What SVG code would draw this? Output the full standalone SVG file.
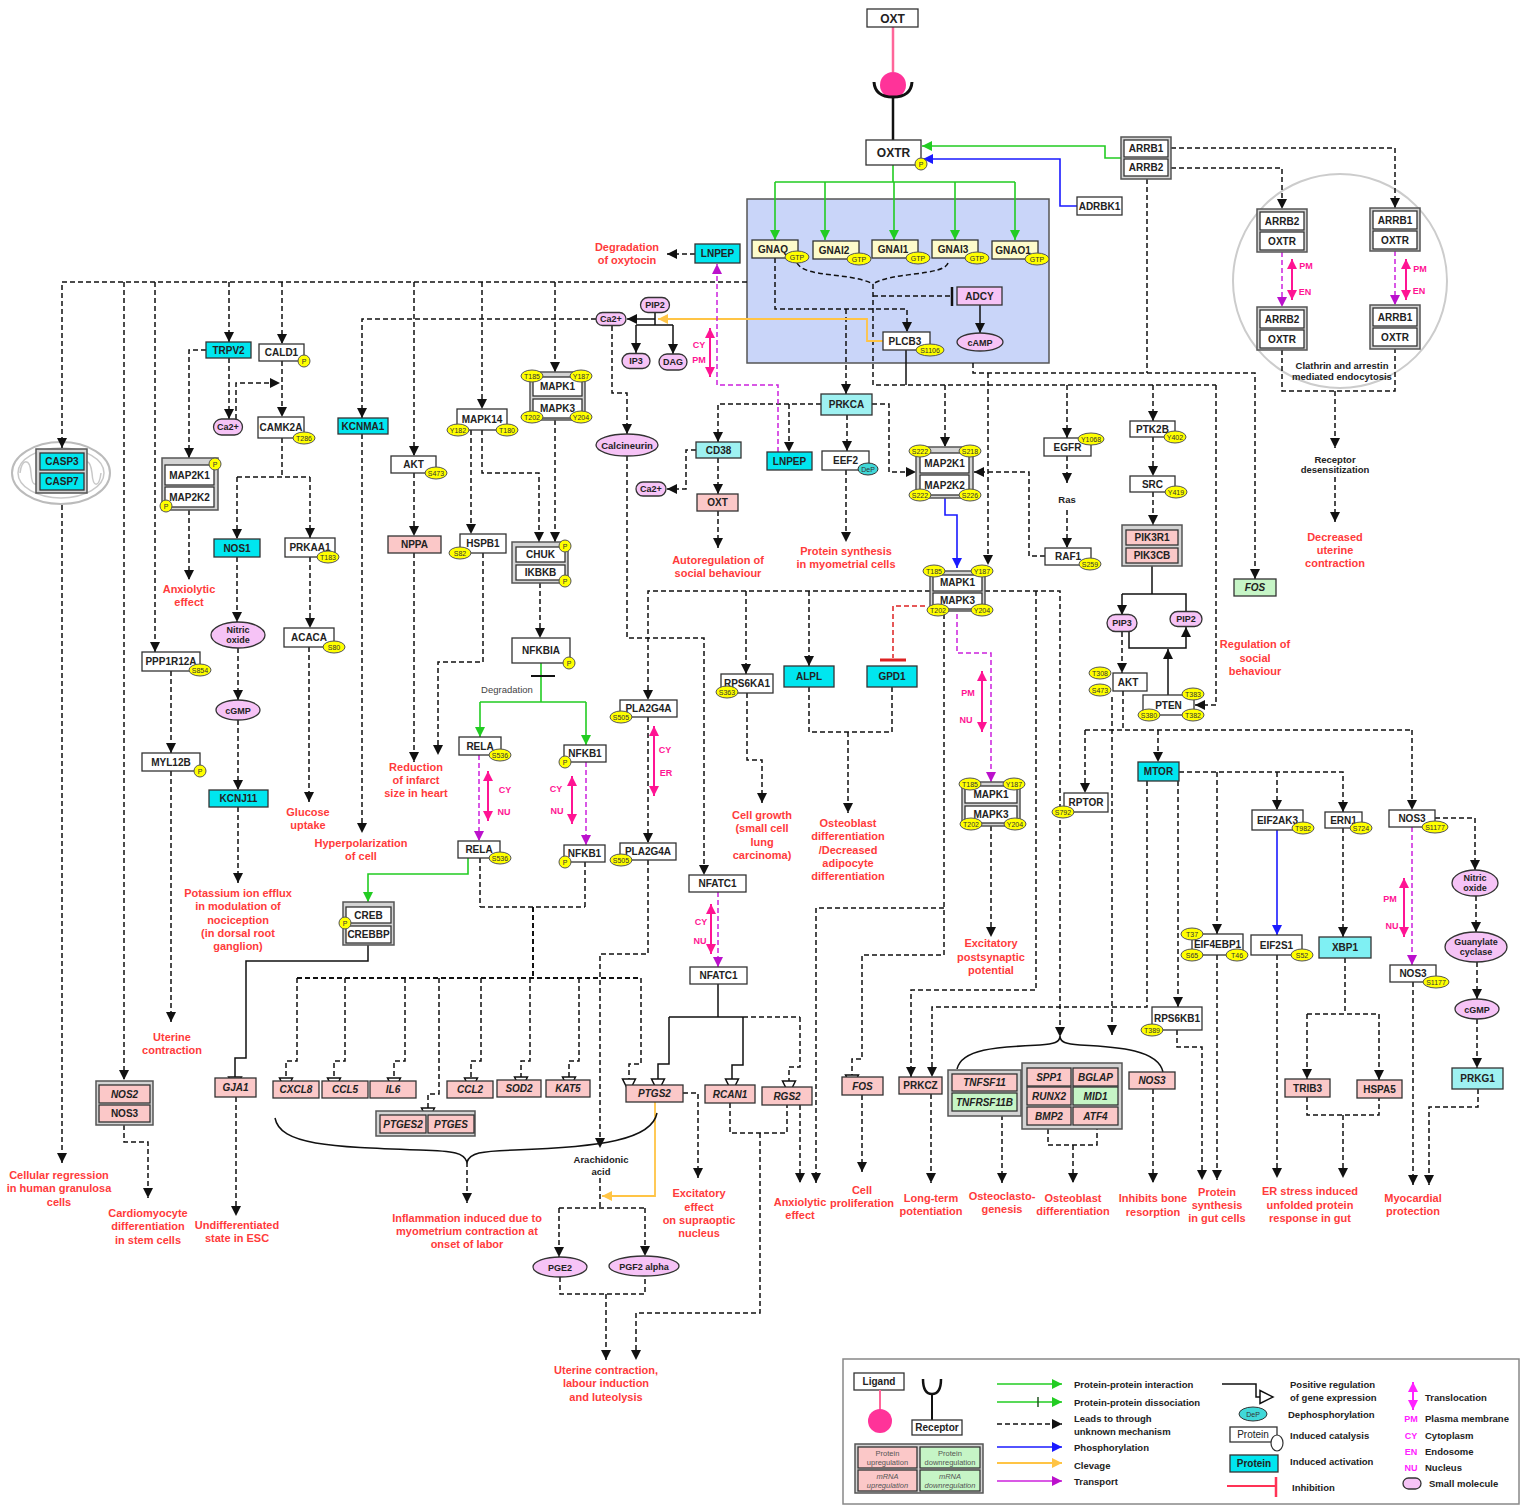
<svg xmlns="http://www.w3.org/2000/svg" width="1521" height="1505" viewBox="0 0 1521 1505">
<style>
.nb{fill:#fff;stroke:#333;stroke-width:1.3}
.cx{fill:#d4d4d4;stroke:#555;stroke-width:1.5}
.cy{fill:#00e6ef;stroke:#333;stroke-width:1.3}
.lc{fill:#9ef1f1;stroke:#333;stroke-width:1.3}
.pk{fill:#fbc8c8;stroke:#333;stroke-width:1.3}
.gr{fill:#c6f5c6;stroke:#333;stroke-width:1.3}
.yl{fill:#fdfbcb;stroke:#333;stroke-width:1.3}
.sm{fill:#f6c3f6;stroke:#333;stroke-width:1.3}
.ph{fill:#ffff00;stroke:#555;stroke-width:1}
text{font-family:"Liberation Sans",Arial,sans-serif}
.t{font-size:10px;font-weight:bold;text-anchor:middle;fill:#222}
.ti{font-size:10px;font-weight:bold;font-style:italic;text-anchor:middle;fill:#222}
.ts{font-size:9px;font-weight:bold;text-anchor:middle;fill:#222}
.st{font-size:7px;text-anchor:middle;fill:#333}
.r{font-size:11px;font-weight:bold;text-anchor:middle;fill:#ff3b3b}
.tr{font-size:9px;font-weight:bold;text-anchor:middle;fill:#ff1493}
.lg{font-size:9.5px;font-weight:bold;fill:#222}
.k{fill:none;stroke:#111;stroke-width:1.5;stroke-dasharray:5,3}
.ka{marker-end:url(#aK)}
.kg{marker-end:url(#aG)}
.s{fill:none;stroke:#111;stroke-width:1.5}
.sa{marker-end:url(#aK)}
.sg{marker-end:url(#aG)}
.g{fill:none;stroke:#22cc22;stroke-width:1.6}
.ga{marker-end:url(#aGr)}
.b{fill:none;stroke:#1a1aff;stroke-width:1.6;marker-end:url(#aB)}
.o{fill:none;stroke:#ffc445;stroke-width:1.8;marker-end:url(#aO)}
.m{fill:none;stroke:#cc22dd;stroke-width:1.5;stroke-dasharray:5,3;marker-end:url(#aM)}
.tl{fill:none;stroke:#ff1493;stroke-width:2;marker-start:url(#aP);marker-end:url(#aP)}
.ri{fill:none;stroke:#dd2222;stroke-width:1.5;stroke-dasharray:5,3}
</style>
<defs>
<marker id="aK" markerUnits="userSpaceOnUse" markerWidth="10" markerHeight="10" refX="10" refY="5" orient="auto"><path d="M0,0L10,5L0,10z" fill="#111"/></marker>
<marker id="aG" markerUnits="userSpaceOnUse" markerWidth="17" markerHeight="17" refX="14.5" refY="8" orient="auto"><path d="M1.5,1.5L14.5,8L1.5,14.5z" fill="#fff" stroke="#111" stroke-width="1.5"/></marker>
<marker id="aGr" markerUnits="userSpaceOnUse" markerWidth="10" markerHeight="10" refX="10" refY="5" orient="auto"><path d="M0,0L10,5L0,10z" fill="#22cc22"/></marker>
<marker id="aB" markerUnits="userSpaceOnUse" markerWidth="10" markerHeight="10" refX="10" refY="5" orient="auto"><path d="M0,0L10,5L0,10z" fill="#1a1aff"/></marker>
<marker id="aO" markerUnits="userSpaceOnUse" markerWidth="10" markerHeight="10" refX="10" refY="5" orient="auto"><path d="M0,0L10,5L0,10z" fill="#ffc445"/></marker>
<marker id="aM" markerUnits="userSpaceOnUse" markerWidth="10" markerHeight="10" refX="10" refY="5" orient="auto"><path d="M0,0L10,5L0,10z" fill="#bb11cc"/></marker>
<marker id="aP" markerUnits="userSpaceOnUse" markerWidth="10" markerHeight="10" refX="10" refY="5" orient="auto-start-reverse"><path d="M0,0L10,5L0,10z" fill="#ff1493"/></marker>
<marker id="aPL" markerUnits="userSpaceOnUse" markerWidth="10" markerHeight="10" refX="10" refY="5" orient="auto-start-reverse"><path d="M0,0L10,5L0,10z" fill="#ff22ff"/></marker>
</defs>
<rect width="1521" height="1505" fill="#fff"/>

<g id="n_endosome_zone"><circle cx="1340" cy="281" r="107" fill="none" stroke="#cccccc" stroke-width="2"/></g>
<g id="n_mitochondrion">
<ellipse cx="61" cy="473" rx="49" ry="31" fill="#fff" stroke="#bbb" stroke-width="2"/>
<ellipse cx="61" cy="473" rx="43" ry="25" fill="none" stroke="#c8c8c8" stroke-width="1.5"/>
<path d="M20,473C22,458 30,458 31,473C32,488 38,488 40,473M82,473C84,458 90,458 92,473C93,488 99,488 101,473" fill="none" stroke="#c8c8c8" stroke-width="1.5"/>
</g>
<g id="n_membrane"><rect x="747" y="199" width="302" height="164" fill="#c9d5f9" stroke="#555" stroke-width="1.5"/></g>

<g id="connectors">
<path d="M893,27V72" fill="none" stroke="#ff6699" stroke-width="2.5"/>
<path d="M893,98V140" fill="none" stroke="#111" stroke-width="2.5"/>
<path d="M1121,158H1105V146H922" class="g ga"/>
<path d="M1077,206H1060V159H923" class="b"/>
<path d="M893,165V182M775,182H1015" class="g"/>
<path d="M775,182V240" class="g ga"/>
<path d="M825,182V240" class="g ga"/>
<path d="M894,182V240" class="g ga"/>
<path d="M955,182V240" class="g ga"/>
<path d="M1015,182V240" class="g ga"/>
<path d="M1171,148H1395V208" class="k ka"/>
<path d="M1171,168H1282V209" class="k ka"/>
<path d="M1147,179V373" class="k"/>
<path d="M1282,252V307" class="m"/>
<path d="M1395,251V305" class="m"/>
<path d="M1292,259V300" class="tl"/>
<path d="M1406,259V300" class="tl"/>
<path d="M1282,350V391H1395V349" class="k"/>
<path d="M1335,391V448" class="k ka"/>
<path d="M1335,477V522" class="k ka"/>
<path d="M797,263C805,278 850,272 873,284" class="k"/>
<path d="M948,263C944,276 890,272 873,284" class="k"/>
<path d="M873,284V385H1216" class="k"/>
<path d="M873,296H950" class="k"/>
<path d="M952,287V306" stroke="#111" stroke-width="2.5"/>
<path d="M980,305V333" class="s sa"/>
<path d="M775,258V309H907V332" class="k ka"/>
<path d="M846,309V394" class="k ka"/>
<path d="M883,341H867V319H658" class="o"/>
<path d="M655,312V325M636,325H673" class="s"/>
<path d="M636,325V353" class="s sa"/>
<path d="M673,325V354" class="s sa"/>
<path d="M655,319H627" class="s sa"/>
<path d="M596,319H362V418" class="k ka"/>
<path d="M612,326V393H627V434" class="k ka"/>
<path d="M747,282H62V448" class="k ka"/>
<path d="M124,282V1080" class="k ka"/>
<path d="M155,282V652" class="k ka"/>
<path d="M229,282V342" class="k ka"/>
<path d="M282,282V344" class="k ka"/>
<path d="M414,282V456" class="k ka"/>
<path d="M482,282V409" class="k ka"/>
<path d="M555,282V372" class="k ka"/>
<path d="M206,350H189V458" class="k ka"/>
<path d="M229,358V419" class="k ka"/>
<path d="M236,419V383H280" class="k ka"/>
<path d="M282,361V417" class="k ka"/>
<path d="M282,438V477M237,477H310" class="k"/>
<path d="M237,477V539" class="k ka"/>
<path d="M310,477V538" class="k ka"/>
<path d="M189,510V580" class="k ka"/>
<path d="M171,671V753" class="k ka"/>
<path d="M171,771V1022" class="k ka"/>
<path d="M237,557V622" class="k ka"/>
<path d="M238,648V700" class="k ka"/>
<path d="M238,720V790" class="k ka"/>
<path d="M238,807V883" class="k ka"/>
<path d="M310,557V628" class="k ka"/>
<path d="M309,647V802" class="k ka"/>
<path d="M362,434V833" class="k ka"/>
<path d="M414,473V536" class="k ka"/>
<path d="M414,553V762" class="k ka"/>
<path d="M471,430V534" class="k ka"/>
<path d="M483,553V662H438V755" class="k ka"/>
<path d="M482,430V473H539V542" class="k ka"/>
<path d="M555,420V542" class="k ka"/>
<path d="M540,583V638" class="k ka"/>
<path d="M541,663V702M480,702H586" class="g"/>
<path d="M531,676H555" stroke="#111" stroke-width="2"/>
<path d="M480,702V737" class="g ga"/>
<path d="M586,702V745" class="g ga"/>
<path d="M479,755V841" class="m"/>
<path d="M488,771V821" class="tl"/>
<path d="M586,762V845" class="m"/>
<path d="M572,776V824" class="tl"/>
<path d="M654,726V796" class="tl"/>
<path d="M648,717V843" class="k ka"/>
<path d="M627,456V638H704V875" class="k ka"/>
<path d="M930,591H648V700" class="k ka"/>
<path d="M746,591V674" class="k ka"/>
<path d="M809,591V666" class="k ka"/>
<path d="M985,591H1060V1037" class="k ka"/>
<path d="M1036,591V990H911V1077" class="k ka"/>
<path d="M925,606H893V658" class="ri"/>
<path d="M880,660H906" stroke="#dd2222" stroke-width="3"/>
<path d="M809,687V732H892V687" class="k"/>
<path d="M848,732V813" class="k ka"/>
<path d="M747,693V760H762V803" class="k ka"/>
<path d="M957,614V653H991V782" class="m"/>
<path d="M982,671V732" class="tl"/>
<path d="M991,826V937" class="k ka"/>
<path d="M944,614V955H862V1059H852V1088" class="k kg"/>
<path d="M944,908H816V1183" class="k ka"/>
<path d="M821,404H718V442" class="k ka"/>
<path d="M789,404V452" class="k ka"/>
<path d="M847,415V451" class="k ka"/>
<path d="M846,470V542" class="k ka"/>
<path d="M872,404H889V472H916" class="k ka"/>
<path d="M696,450H686V489H667" class="k ka"/>
<path d="M718,458V494" class="k ka"/>
<path d="M718,511V548" class="k ka"/>
<path d="M695,254H667" class="k ka"/>
<path d="M778,452V385H717V264" class="m"/>
<path d="M710,328V377" class="tl"/>
<path d="M945,498V515H957V568" class="b"/>
<path d="M945,385V447" class="k ka"/>
<path d="M988,373V565" class="k ka"/>
<path d="M973,363V373H1255V579" class="k ka"/>
<path d="M906,350V385" class="s"/>
<path d="M1067,385V438" class="k ka"/>
<path d="M1153,385V421" class="k ka"/>
<path d="M1216,385V705H1195" class="k ka"/>
<path d="M1067,456V483" class="k ka"/>
<path d="M1067,510V548" class="k ka"/>
<path d="M1045,556H1029V472H974" class="k ka"/>
<path d="M1153,437V476" class="k ka"/>
<path d="M1153,492V525" class="k ka"/>
<path d="M1152,566V594M1122,594H1186V612" class="s"/>
<path d="M1122,594V615" class="s sa"/>
<path d="M1129,631V648H1186V627" class="s sa"/>
<path d="M1168,695V649" class="s sa"/>
<path d="M1122,632V673" class="k ka"/>
<path d="M1123,691V730M1085,730H1412" class="k"/>
<path d="M1085,730V793" class="k ka"/>
<path d="M1158,730V762" class="k ka"/>
<path d="M1412,730V810" class="k ka"/>
<path d="M1112,697V1035" class="k ka"/>
<path d="M1179,772H1343V812" class="k ka"/>
<path d="M1277,772V810" class="k ka"/>
<path d="M1217,772V934" class="k ka"/>
<path d="M1147,781V1007H932V1077" class="k ka"/>
<path d="M1178,781V1007" class="k ka"/>
<path d="M1277,830V935" class="b"/>
<path d="M1343,828V937" class="k ka"/>
<path d="M1435,818H1475V870" class="k ka"/>
<path d="M1412,827V965" class="m"/>
<path d="M1404,878V937" class="tl"/>
<path d="M1476,896V932" class="k ka"/>
<path d="M1477,962V999" class="k ka"/>
<path d="M1477,1019V1068" class="k ka"/>
<path d="M1478,1089V1107H1429V1185" class="k ka"/>
<path d="M1413,982V1185" class="k ka"/>
<path d="M1217,955V1180" class="k ka"/>
<path d="M1177,1030V1047H1202V1180" class="k ka"/>
<path d="M1277,955V1178" class="k ka"/>
<path d="M1345,958V1014M1307,1014H1379" class="k"/>
<path d="M1307,1014V1079" class="k ka"/>
<path d="M1379,1014V1080" class="k ka"/>
<path d="M1307,1097V1115H1379V1098" class="k"/>
<path d="M1343,1115V1178" class="k ka"/>
<path d="M1153,1089V1183" class="k ka"/>
<path d="M1048,1129V1145H1097V1129" class="k"/>
<path d="M1073,1145V1183" class="k ka"/>
<path d="M957,1069C962,1048 1000,1047 1040,1045C1055,1044 1059,1042 1060,1037C1061,1042 1065,1044 1080,1045C1120,1047 1158,1050 1163,1072" class="s"/>
<path d="M1002,1115V1183" class="k ka"/>
<path d="M931,1094V1183" class="k ka"/>
<path d="M862,1095V1172" class="k ka"/>
<path d="M718,892V967" class="m"/>
<path d="M711,904V954" class="tl"/>
<path d="M718,984V1017M669,1017H743" class="s"/>
<path d="M743,1017H800" class="k"/>
<path d="M669,1017V1064H658V1092" class="s sg"/>
<path d="M743,1017V1065H732V1092" class="s sg"/>
<path d="M800,1017V1067H789V1094" class="k kg"/>
<path d="M683,1093H698V1178" class="k ka"/>
<path d="M655,1102V1196H602" class="o"/>
<path d="M648,860V954H600V1148" class="k ka"/>
<path d="M600,1178V1208M559,1208H645" class="k"/>
<path d="M559,1208V1257" class="k ka"/>
<path d="M645,1208V1256" class="k ka"/>
<path d="M560,1277V1294H645V1276" class="k"/>
<path d="M606,1294V1360" class="k ka"/>
<path d="M730,1103V1133H787V1105" class="k"/>
<path d="M760,1133V1313H636V1360" class="k ka"/>
<path d="M800,1105V1183" class="k ka"/>
<path d="M480,858V907M585,862V907M480,907H585" class="k"/>
<path d="M533,907V978M297,978H641" class="k" style="stroke-width:2"/>
<path d="M297,978V1061H286V1091" class="k kg"/>
<path d="M345,978V1061H334V1091" class="k kg"/>
<path d="M405,978V1061H394V1091" class="k kg"/>
<path d="M481,978V1061H471V1091" class="k kg"/>
<path d="M530,978V1061H521V1090" class="k kg"/>
<path d="M579,978V1061H569V1090" class="k kg"/>
<path d="M439,978V1094H428V1121" class="k kg"/>
<path d="M641,978V1064H629V1092" class="k kg"/>
<path d="M275,1118C280,1145 330,1147 420,1150C455,1151 464,1153 467,1162C470,1153 480,1151 515,1150C600,1147 652,1140 657,1113" class="s"/>
<path d="M467,1162V1203" class="k ka"/>
<path d="M468,858V874H368V902" class="g ga"/>
<path d="M368,945V961H246V1058H235V1090" class="s sg"/>
<path d="M236,1097V1216" class="k ka"/>
<path d="M124,1125V1142H148V1198" class="k ka"/>
<path d="M62,505V1163" class="k ka"/>
</g>

<g id="n_OXT"><rect x="867" y="9" width="51" height="18" class="nb"/><text x="892.5" y="22.5" class="t" style="font-size:12px">OXT</text></g>
<g id="n_ligand"><circle cx="893" cy="85" r="13" fill="#ff3399"/></g>
<g id="n_receptor"><path d="M874,82Q875,97 893,97Q911,97 912,82" fill="none" stroke="#111" stroke-width="3"/></g>
<g id="n_OXTR"><rect x="866" y="140" width="55" height="25" class="nb"/><text x="893.5" y="157" class="t" style="font-size:12px">OXTR</text><circle cx="921" cy="164" r="6" class="ph"/><text x="921" y="167" class="st">P</text></g>
<g id="n_ARRB"><rect x="1121" y="137" width="50" height="42" class="cx"/><rect x="1124" y="140" width="44" height="17" class="nb"/><rect x="1124" y="159" width="44" height="17" class="nb"/><text x="1146" y="152" class="t">ARRB1</text><text x="1146" y="171" class="t">ARRB2</text></g>
<g id="n_ADRBK1"><rect x="1077" y="197" width="45" height="18" class="nb"/><text x="1099.5" y="209.5" class="t">ADRBK1</text></g>

<g id="n_GNAQ"><rect x="752" y="240" width="46" height="18" class="yl"/><text x="773" y="252.5" class="t">GNAQ</text><ellipse cx="797" cy="257" rx="12" ry="6" class="ph"/><text x="797" y="259.5" class="st">GTP</text></g>
<g id="n_GNAI2"><rect x="813" y="241" width="46" height="18" class="yl"/><text x="834" y="253.5" class="t">GNAI2</text><ellipse cx="859" cy="259" rx="12" ry="6" class="ph"/><text x="859" y="261.5" class="st">GTP</text></g>
<g id="n_GNAI1"><rect x="872" y="240" width="46" height="18" class="yl"/><text x="893" y="252.5" class="t">GNAI1</text><ellipse cx="918" cy="258" rx="12" ry="6" class="ph"/><text x="918" y="260.5" class="st">GTP</text></g>
<g id="n_GNAI3"><rect x="932" y="240" width="46" height="18" class="yl"/><text x="953" y="252.5" class="t">GNAI3</text><ellipse cx="977" cy="258" rx="12" ry="6" class="ph"/><text x="977" y="260.5" class="st">GTP</text></g>
<g id="n_GNAO1"><rect x="992" y="241" width="46" height="18" class="yl"/><text x="1013" y="253.5" class="t">GNAO1</text><ellipse cx="1037" cy="259" rx="12" ry="6" class="ph"/><text x="1037" y="261.5" class="st">GTP</text></g>
<g id="n_ADCY"><rect x="957" y="287" width="45" height="18" class="sm"/><text x="979.5" y="299.5" class="t">ADCY</text></g>
<g id="n_cAMP"><ellipse cx="980" cy="342" rx="23" ry="9" class="sm"/><text x="980" y="345.5" class="ts">cAMP</text></g>
<g id="n_PLCB3"><rect x="883" y="332" width="47" height="18" class="nb"/><text x="905" y="344.5" class="t">PLCB3</text><ellipse cx="930" cy="350" rx="14" ry="6" class="ph"/><text x="930" y="352.5" class="st">S1106</text></g>

<g id="n_LNPEP_top"><rect x="695" y="244" width="45" height="19" class="cy"/><text x="717.5" y="257" class="t">LNPEP</text></g>
<g id="n_PIP2_top"><rect x="640.5" y="297.5" width="29" height="15" rx="7.5" class="sm"/><text x="655" y="308" class="ts">PIP2</text></g>
<g id="n_IP3"><rect x="622" y="353.5" width="28" height="15" rx="7.5" class="sm"/><text x="636" y="364" class="ts">IP3</text></g>
<g id="n_DAG"><rect x="659" y="354" width="28" height="16" rx="8" class="sm"/><text x="673" y="365" class="ts">DAG</text></g>
<g id="n_Ca_top"><rect x="596" y="312.5" width="30" height="13" rx="6.5" class="sm"/><text x="611" y="322" class="ts">Ca2+</text></g>
<g id="n_MAPK13_top"><rect x="530" y="372" width="55" height="48" class="cx"/><rect x="533" y="377" width="49" height="19" class="nb"/><rect x="533" y="399" width="49" height="19" class="nb"/><text x="557.5" y="389.5" class="t">MAPK1</text><text x="557.5" y="411.5" class="t">MAPK3</text>
<ellipse cx="532" cy="376" rx="11" ry="6" class="ph"/><text x="532" y="378.5" class="st">T185</text><ellipse cx="581" cy="376" rx="11" ry="6" class="ph"/><text x="581" y="378.5" class="st">Y187</text><ellipse cx="532" cy="417" rx="11" ry="6" class="ph"/><text x="532" y="419.5" class="st">T202</text><ellipse cx="581" cy="417" rx="11" ry="6" class="ph"/><text x="581" y="419.5" class="st">Y204</text></g>

<g id="n_PRKCA"><rect x="821" y="394" width="51" height="21" class="lc"/><text x="846.5" y="408" class="t">PRKCA</text></g>
<g id="n_CD38"><rect x="696" y="442" width="45" height="16" class="lc"/><text x="718.5" y="453.5" class="t">CD38</text></g>
<g id="n_Ca_mid"><rect x="636" y="482" width="30" height="14" rx="7" class="sm"/><text x="651" y="492" class="ts">Ca2+</text></g>
<g id="n_OXT_gene"><rect x="697" y="494" width="41" height="17" class="pk"/><text x="717.5" y="506" class="t">OXT</text></g>
<g id="n_LNPEP_low"><rect x="767" y="452" width="45" height="18" class="cy"/><text x="789.5" y="464.5" class="t">LNPEP</text></g>
<g id="n_EEF2"><rect x="822" y="451" width="47" height="19" class="nb"/><text x="845.5" y="464" class="t">EEF2</text><ellipse cx="868" cy="469" rx="10" ry="6" fill="#40d8d8" stroke="#333" stroke-width="1"/><text x="868" y="471.5" class="st">DeP</text></g>
<g id="n_Calcineurin"><ellipse cx="627" cy="445" rx="31" ry="11" class="sm"/><text x="627" y="448.5" class="ts" style="font-size:9.5px">Calcineurin</text></g>
<g id="n_CHUK_IKBKB"><rect x="512" y="542" width="56" height="41" class="cx"/><rect x="516" y="547" width="49" height="15" class="nb"/><rect x="516" y="565" width="49" height="15" class="nb"/><text x="540.5" y="558" class="t">CHUK</text><text x="540.5" y="576" class="t">IKBKB</text><circle cx="565" cy="546" r="6" class="ph"/><text x="565" y="549" class="st">P</text><circle cx="565" cy="581" r="6" class="ph"/><text x="565" y="584" class="st">P</text></g>
<g id="n_NFKBIA"><rect x="512" y="638" width="58" height="25" class="nb"/><text x="541" y="654" class="t">NFKBIA</text><circle cx="569" cy="663" r="6" class="ph"/><text x="569" y="666" class="st">P</text></g>
<g id="n_degradation_label"><text x="507" y="693" style="font-size:9.5px;text-anchor:middle;fill:#444">Degradation</text></g>
<g id="n_MAPK14"><rect x="457" y="409" width="50" height="21" class="nb"/><text x="482" y="423" class="t">MAPK14</text><ellipse cx="458" cy="430" rx="11" ry="6" class="ph"/><text x="458" y="432.5" class="st">Y182</text><ellipse cx="507" cy="430" rx="11" ry="6" class="ph"/><text x="507" y="432.5" class="st">T180</text></g>
<g id="n_AKT_left"><rect x="391" y="456" width="45" height="17" class="nb"/><text x="413.5" y="468" class="t">AKT</text><ellipse cx="436" cy="473" rx="11" ry="6" class="ph"/><text x="436" y="475.5" class="st">S473</text></g>
<g id="n_HSPB1"><rect x="460" y="534" width="46" height="19" class="nb"/><text x="483" y="547" class="t">HSPB1</text><ellipse cx="460" cy="553" rx="11" ry="6" class="ph"/><text x="460" y="555.5" class="st">S82</text></g>
<g id="n_NPPA"><rect x="388" y="536" width="53" height="17" class="pk"/><text x="414.5" y="548" class="t">NPPA</text></g>
<g id="n_KCNMA1"><rect x="338" y="418" width="50" height="16" class="cy"/><text x="363" y="429.5" class="t">KCNMA1</text></g>
<g id="n_TRPV2"><rect x="206" y="342" width="45" height="16" class="cy"/><text x="228.5" y="353.5" class="t">TRPV2</text></g>
<g id="n_CALD1"><rect x="259" y="344" width="45" height="17" class="nb"/><text x="281.5" y="356" class="t">CALD1</text><circle cx="304" cy="361" r="6" class="ph"/><text x="304" y="364" class="st">P</text></g>
<g id="n_Ca_left"><rect x="213.5" y="419" width="29" height="16" rx="8" class="sm"/><text x="228" y="430" class="ts">Ca2+</text></g>
<g id="n_CAMK2A"><rect x="258" y="417" width="46" height="21" class="nb"/><text x="281" y="431" class="t">CAMK2A</text><ellipse cx="304" cy="438" rx="11" ry="6" class="ph"/><text x="304" y="440.5" class="st">T286</text></g>
<g id="n_CASP"><rect x="36" y="449" width="51" height="44" class="cx"/><rect x="40" y="453" width="44" height="17" class="cy"/><rect x="40" y="473" width="44" height="17" class="cy"/><text x="62" y="465" class="t">CASP3</text><text x="62" y="485" class="t">CASP7</text></g>
<g id="n_MAP2K_left"><rect x="162" y="458" width="56" height="52" class="cx"/><rect x="165" y="465" width="49" height="20" class="nb"/><rect x="165" y="487" width="49" height="20" class="nb"/><text x="189.5" y="479" class="t">MAP2K1</text><text x="189.5" y="501" class="t">MAP2K2</text><circle cx="215" cy="464" r="6" class="ph"/><text x="215" y="467" class="st">P</text><circle cx="166" cy="506" r="6" class="ph"/><text x="166" y="509" class="st">P</text></g>
<g id="n_NOS1"><rect x="214" y="539" width="46" height="18" class="cy"/><text x="237" y="551.5" class="t">NOS1</text></g>
<g id="n_PRKAA1"><rect x="285" y="538" width="50" height="19" class="nb"/><text x="310" y="551" class="t">PRKAA1</text><ellipse cx="328" cy="557" rx="11" ry="6" class="ph"/><text x="328" y="559.5" class="st">T183</text></g>
<g id="n_NO_left"><ellipse cx="238" cy="635" rx="27" ry="13" class="sm"/><text x="238" y="633" class="ts">Nitric</text><text x="238" y="643" class="ts">oxide</text></g>
<g id="n_ACACA"><rect x="284" y="628" width="50" height="19" class="nb"/><text x="309" y="641" class="t">ACACA</text><ellipse cx="334" cy="647" rx="11" ry="6" class="ph"/><text x="334" y="649.5" class="st">S80</text></g>
<g id="n_PPP1R12A"><rect x="142" y="652" width="58" height="19" class="nb"/><text x="171" y="665" class="t">PPP1R12A</text><ellipse cx="200" cy="670" rx="11" ry="6" class="ph"/><text x="200" y="672.5" class="st">S854</text></g>
<g id="n_cGMP_left"><ellipse cx="238" cy="710" rx="22" ry="10" class="sm"/><text x="238" y="713.5" class="ts">cGMP</text></g>
<g id="n_MYL12B"><rect x="142" y="753" width="58" height="18" class="nb"/><text x="171" y="765.5" class="t">MYL12B</text><circle cx="200" cy="771" r="6" class="ph"/><text x="200" y="774" class="st">P</text></g>
<g id="n_KCNJ11"><rect x="209" y="790" width="59" height="17" class="cy"/><text x="238.5" y="802" class="t">KCNJ11</text></g>

<g id="n_RELA_cy"><rect x="459" y="737" width="42" height="18" class="nb"/><text x="480" y="749.5" class="t">RELA</text><ellipse cx="500" cy="755" rx="11" ry="6" class="ph"/><text x="500" y="757.5" class="st">S536</text></g>
<g id="n_RELA_nu"><rect x="458" y="841" width="42" height="17" class="nb"/><text x="479" y="853" class="t">RELA</text><ellipse cx="500" cy="858" rx="11" ry="6" class="ph"/><text x="500" y="860.5" class="st">S536</text></g>
<g id="n_NFKB1_cy"><rect x="564" y="745" width="42" height="17" class="nb"/><text x="585" y="757" class="t">NFKB1</text><circle cx="565" cy="762" r="6" class="ph"/><text x="565" y="765" class="st">P</text></g>
<g id="n_NFKB1_nu"><rect x="564" y="845" width="41" height="17" class="nb"/><text x="584.5" y="857" class="t">NFKB1</text><circle cx="565" cy="862" r="6" class="ph"/><text x="565" y="865" class="st">P</text></g>
<g id="n_PLA2G4A_cy"><rect x="620" y="700" width="57" height="17" class="nb"/><text x="648.5" y="712" class="t">PLA2G4A</text><ellipse cx="621" cy="717" rx="11" ry="6" class="ph"/><text x="621" y="719.5" class="st">S505</text></g>
<g id="n_PLA2G4A_er"><rect x="620" y="843" width="56" height="17" class="nb"/><text x="648" y="855" class="t">PLA2G4A</text><ellipse cx="621" cy="860" rx="11" ry="6" class="ph"/><text x="621" y="862.5" class="st">S505</text></g>

<g id="n_MAP2K_mid"><rect x="916" y="447" width="57" height="51" class="cx"/><rect x="920" y="453" width="49" height="20" class="nb"/><rect x="920" y="475" width="49" height="20" class="nb"/><text x="944.5" y="467" class="t">MAP2K1</text><text x="944.5" y="489" class="t">MAP2K2</text>
<ellipse cx="920" cy="451" rx="11" ry="6" class="ph"/><text x="920" y="453.5" class="st">S222</text><ellipse cx="970" cy="451" rx="11" ry="6" class="ph"/><text x="970" y="453.5" class="st">S218</text><ellipse cx="920" cy="495" rx="11" ry="6" class="ph"/><text x="920" y="497.5" class="st">S222</text><ellipse cx="970" cy="495" rx="11" ry="6" class="ph"/><text x="970" y="497.5" class="st">S226</text></g>
<g id="n_MAPK13_mid"><rect x="930" y="571" width="55" height="40" class="cx"/><rect x="933" y="575" width="49" height="16" class="nb"/><rect x="933" y="593" width="49" height="16" class="nb"/><text x="957.5" y="586" class="t">MAPK1</text><text x="957.5" y="604" class="t">MAPK3</text>
<ellipse cx="934" cy="571" rx="11" ry="6" class="ph"/><text x="934" y="573.5" class="st">T185</text><ellipse cx="982" cy="571" rx="11" ry="6" class="ph"/><text x="982" y="573.5" class="st">Y187</text><ellipse cx="938" cy="610" rx="11" ry="6" class="ph"/><text x="938" y="612.5" class="st">T202</text><ellipse cx="982" cy="610" rx="11" ry="6" class="ph"/><text x="982" y="612.5" class="st">Y204</text></g>
<g id="n_RPS6KA1"><rect x="721" y="674" width="52" height="19" class="nb"/><text x="747" y="687" class="t">RPS6KA1</text><ellipse cx="727" cy="692" rx="11" ry="6" class="ph"/><text x="727" y="694.5" class="st">S363</text></g>
<g id="n_ALPL"><rect x="784" y="666" width="50" height="21" class="cy"/><text x="809" y="680" class="t">ALPL</text></g>
<g id="n_GPD1"><rect x="867" y="666" width="50" height="21" class="cy"/><text x="892" y="680" class="t">GPD1</text></g>
<g id="n_MAPK13_nu"><rect x="962" y="782" width="58" height="44" class="cx"/><rect x="965" y="786" width="52" height="17" class="nb"/><rect x="965" y="806" width="52" height="17" class="nb"/><text x="991" y="798" class="t">MAPK1</text><text x="991" y="818" class="t">MAPK3</text>
<ellipse cx="970" cy="784" rx="11" ry="6" class="ph"/><text x="970" y="786.5" class="st">T185</text><ellipse cx="1014" cy="784" rx="11" ry="6" class="ph"/><text x="1014" y="786.5" class="st">Y187</text><ellipse cx="971" cy="824" rx="11" ry="6" class="ph"/><text x="971" y="826.5" class="st">T202</text><ellipse cx="1015" cy="824" rx="11" ry="6" class="ph"/><text x="1015" y="826.5" class="st">Y204</text></g>

<g id="n_EGFR"><rect x="1044" y="438" width="47" height="18" class="nb"/><text x="1067.5" y="450.5" class="t">EGFR</text><ellipse cx="1091" cy="439" rx="13" ry="6" class="ph"/><text x="1091" y="441.5" class="st">Y1068</text></g>
<g id="n_Ras"><text x="1067" y="503" class="t" style="font-size:9.5px">Ras</text></g>
<g id="n_PTK2B"><rect x="1130" y="421" width="45" height="16" class="nb"/><text x="1152.5" y="432.5" class="t">PTK2B</text><ellipse cx="1175" cy="437" rx="11" ry="6" class="ph"/><text x="1175" y="439.5" class="st">Y402</text></g>
<g id="n_SRC"><rect x="1130" y="476" width="45" height="16" class="nb"/><text x="1152.5" y="487.5" class="t">SRC</text><ellipse cx="1176" cy="492" rx="11" ry="6" class="ph"/><text x="1176" y="494.5" class="st">Y419</text></g>
<g id="n_RAF1"><rect x="1045" y="548" width="46" height="17" class="nb"/><text x="1068" y="560" class="t">RAF1</text><ellipse cx="1090" cy="564" rx="11" ry="6" class="ph"/><text x="1090" y="566.5" class="st">S259</text></g>
<g id="n_PIK3"><rect x="1122" y="525" width="60" height="41" class="cx"/><rect x="1126" y="530" width="52" height="15" class="pk"/><rect x="1126" y="548" width="52" height="15" class="pk"/><text x="1152" y="541" class="t">PIK3R1</text><text x="1152" y="559" class="t">PIK3CB</text></g>
<g id="n_PIP3"><rect x="1107" y="614.5" width="30" height="17" rx="8.5" class="sm"/><text x="1122" y="626" class="ts">PIP3</text></g>
<g id="n_PIP2_right"><rect x="1170" y="611.5" width="32" height="15" rx="7.5" class="sm"/><text x="1186" y="622" class="ts">PIP2</text></g>
<g id="n_AKT_right"><rect x="1113" y="673" width="34" height="18" class="nb"/><text x="1128" y="685.5" class="t">AKT</text><ellipse cx="1100" cy="673" rx="11" ry="6" class="ph"/><text x="1100" y="675.5" class="st">T308</text><ellipse cx="1100" cy="690" rx="11" ry="6" class="ph"/><text x="1100" y="692.5" class="st">S473</text></g>
<g id="n_PTEN"><rect x="1143" y="695" width="51" height="20" class="nb"/><text x="1168.5" y="708.5" class="t">PTEN</text><ellipse cx="1193" cy="694" rx="11" ry="6" class="ph"/><text x="1193" y="696.5" class="st">T383</text><ellipse cx="1149" cy="715" rx="11" ry="6" class="ph"/><text x="1149" y="717.5" class="st">S380</text><ellipse cx="1193" cy="715" rx="11" ry="6" class="ph"/><text x="1193" y="717.5" class="st">T382</text></g>
<g id="n_FOS_social"><rect x="1234" y="579" width="42" height="17" class="gr"/><text x="1255" y="591" class="ti">FOS</text></g>

<g id="n_endocytosis">
<rect x="1257" y="209" width="50" height="43" class="cx"/><rect x="1260" y="212" width="44" height="18" class="nb"/><rect x="1260" y="232" width="44" height="18" class="nb"/><text x="1282" y="224.5" class="t">ARRB2</text><text x="1282" y="244.5" class="t">OXTR</text>
<rect x="1370" y="208" width="50" height="43" class="cx"/><rect x="1373" y="211" width="44" height="18" class="nb"/><rect x="1373" y="231" width="44" height="18" class="nb"/><text x="1395" y="223.5" class="t">ARRB1</text><text x="1395" y="243.5" class="t">OXTR</text>
<rect x="1257" y="307" width="50" height="43" class="cx"/><rect x="1260" y="310" width="44" height="18" class="nb"/><rect x="1260" y="330" width="44" height="18" class="nb"/><text x="1282" y="322.5" class="t">ARRB2</text><text x="1282" y="342.5" class="t">OXTR</text>
<rect x="1370" y="305" width="50" height="44" class="cx"/><rect x="1373" y="308" width="44" height="18" class="nb"/><rect x="1373" y="328" width="44" height="18" class="nb"/><text x="1395" y="320.5" class="t">ARRB1</text><text x="1395" y="340.5" class="t">OXTR</text>
<text x="1342" y="369" class="t" style="font-size:9.5px">Clathrin and arrestin</text><text x="1342" y="380" class="t" style="font-size:9.5px">mediated endocytosis</text>
</g>
<g id="n_receptor_desens"><text x="1335" y="463" class="t" style="font-size:9.5px">Receptor</text><text x="1335" y="473" class="t" style="font-size:9.5px">desensitization</text></g>

<g id="n_RPTOR"><rect x="1064" y="793" width="44" height="19" class="nb"/><text x="1086" y="806" class="t">RPTOR</text><ellipse cx="1063" cy="812" rx="11" ry="6" class="ph"/><text x="1063" y="814.5" class="st">S792</text></g>
<g id="n_MTOR"><rect x="1138" y="762" width="41" height="19" class="cy"/><text x="1158.5" y="775" class="t">MTOR</text></g>
<g id="n_EIF2AK3"><rect x="1252" y="810" width="51" height="20" class="nb"/><text x="1277.5" y="823.5" class="t">EIF2AK3</text><ellipse cx="1303" cy="828" rx="11" ry="6" class="ph"/><text x="1303" y="830.5" class="st">T982</text></g>
<g id="n_ERN1"><rect x="1325" y="812" width="37" height="16" class="nb"/><text x="1343.5" y="823.5" class="t">ERN1</text><ellipse cx="1361" cy="828" rx="11" ry="6" class="ph"/><text x="1361" y="830.5" class="st">S724</text></g>
<g id="n_NOS3_pm"><rect x="1389" y="810" width="46" height="17" class="nb"/><text x="1412" y="822" class="t">NOS3</text><ellipse cx="1435" cy="827" rx="13" ry="6" class="ph"/><text x="1435" y="829.5" class="st">S1177</text></g>
<g id="n_NO_right"><ellipse cx="1475" cy="883" rx="23" ry="13" class="sm"/><text x="1475" y="881" class="ts">Nitric</text><text x="1475" y="891" class="ts">oxide</text></g>
<g id="n_EIF4EBP1"><rect x="1192" y="934" width="51" height="21" class="nb"/><text x="1217.5" y="948" class="t">EIF4EBP1</text><ellipse cx="1192" cy="934" rx="11" ry="6" class="ph"/><text x="1192" y="936.5" class="st">T37</text><ellipse cx="1192" cy="955" rx="11" ry="6" class="ph"/><text x="1192" y="957.5" class="st">S65</text><ellipse cx="1237" cy="955" rx="11" ry="6" class="ph"/><text x="1237" y="957.5" class="st">T46</text></g>
<g id="n_EIF2S1"><rect x="1251" y="935" width="51" height="20" class="nb"/><text x="1276.5" y="948.5" class="t">EIF2S1</text><ellipse cx="1302" cy="955" rx="11" ry="6" class="ph"/><text x="1302" y="957.5" class="st">S52</text></g>
<g id="n_XBP1"><rect x="1319" y="937" width="52" height="21" class="lc" style="fill:#7ff0f3"/><text x="1345" y="951" class="t">XBP1</text></g>
<g id="n_NOS3_nu"><rect x="1390" y="965" width="46" height="17" class="nb"/><text x="1413" y="977" class="t">NOS3</text><ellipse cx="1436" cy="982" rx="13" ry="6" class="ph"/><text x="1436" y="984.5" class="st">S1177</text></g>
<g id="n_GC"><ellipse cx="1476" cy="947" rx="31" ry="15" class="sm"/><text x="1476" y="945" class="ts">Guanylate</text><text x="1476" y="955" class="ts">cyclase</text></g>
<g id="n_cGMP_right"><ellipse cx="1477" cy="1009" rx="22" ry="10" class="sm"/><text x="1477" y="1012.5" class="ts">cGMP</text></g>
<g id="n_PRKG1"><rect x="1452" y="1068" width="51" height="21" class="lc"/><text x="1477.5" y="1082" class="t">PRKG1</text></g>
<g id="n_RPS6KB1"><rect x="1152" y="1007" width="50" height="23" class="nb"/><text x="1177" y="1022" class="t">RPS6KB1</text><ellipse cx="1152" cy="1030" rx="11" ry="6" class="ph"/><text x="1152" y="1032.5" class="st">T389</text></g>
<g id="n_TRIB3"><rect x="1285" y="1079" width="45" height="18" class="pk"/><text x="1307.5" y="1091.5" class="t">TRIB3</text></g>
<g id="n_HSPA5"><rect x="1357" y="1080" width="45" height="18" class="pk"/><text x="1379.5" y="1092.5" class="t">HSPA5</text></g>
<g id="n_NOS3_gene"><rect x="1129" y="1072" width="46" height="17" class="pk"/><text x="1152" y="1084" class="ti">NOS3</text></g>
<g id="n_osteo_genes"><rect x="1022" y="1063" width="100" height="66" class="cx"/>
<rect x="1027" y="1068" width="44" height="18" class="pk"/><rect x="1073" y="1068" width="45" height="18" class="pk"/>
<rect x="1027" y="1087" width="44" height="18" class="pk"/><rect x="1073" y="1087" width="45" height="18" class="gr"/>
<rect x="1027" y="1107" width="44" height="18" class="pk"/><rect x="1073" y="1107" width="45" height="18" class="pk"/>
<text x="1049" y="1080.5" class="ti">SPP1</text><text x="1095.5" y="1080.5" class="ti">BGLAP</text>
<text x="1049" y="1099.5" class="ti">RUNX2</text><text x="1095.5" y="1099.5" class="ti">MID1</text>
<text x="1049" y="1119.5" class="ti">BMP2</text><text x="1095.5" y="1119.5" class="ti">ATF4</text></g>
<g id="n_TNF_genes"><rect x="948" y="1070" width="73" height="46" class="cx"/><rect x="952" y="1074" width="65" height="17" class="pk"/><rect x="952" y="1093" width="65" height="18" class="gr"/><text x="984.5" y="1086" class="ti">TNFSF11</text><text x="984.5" y="1105.5" class="ti">TNFRSF11B</text></g>
<g id="n_PRKCZ"><rect x="899" y="1077" width="43" height="17" class="pk"/><text x="920.5" y="1089" class="t">PRKCZ</text></g>
<g id="n_FOS_gene"><rect x="842" y="1077" width="41" height="18" class="pk"/><text x="862.5" y="1089.5" class="ti">FOS</text></g>
<g id="n_RGS2"><rect x="762" y="1087" width="50" height="18" class="pk"/><text x="787" y="1099.5" class="ti">RGS2</text></g>
<g id="n_RCAN1"><rect x="705" y="1085" width="50" height="18" class="pk"/><text x="730" y="1097.5" class="ti">RCAN1</text></g>
<g id="n_PTGS2"><rect x="626" y="1085" width="57" height="17" class="pk"/><text x="654.5" y="1097" class="ti">PTGS2</text></g>
<g id="n_KAT5"><rect x="546" y="1080" width="44" height="17" class="pk"/><text x="568" y="1092" class="ti">KAT5</text></g>
<g id="n_SOD2"><rect x="497" y="1080" width="44" height="17" class="pk"/><text x="519" y="1092" class="ti">SOD2</text></g>
<g id="n_CCL2"><rect x="447" y="1081" width="46" height="17" class="pk"/><text x="470" y="1093" class="ti">CCL2</text></g>
<g id="n_IL6"><rect x="370" y="1081" width="46" height="17" class="pk"/><text x="393" y="1093" class="ti">IL6</text></g>
<g id="n_CCL5"><rect x="322" y="1081" width="46" height="17" class="pk"/><text x="345" y="1093" class="ti">CCL5</text></g>
<g id="n_CXCL8"><rect x="273" y="1081" width="46" height="17" class="pk"/><text x="296" y="1093" class="ti">CXCL8</text></g>
<g id="n_PTGES"><rect x="376" y="1111" width="99" height="25" class="cx"/><rect x="380" y="1115" width="46" height="18" class="pk"/><rect x="428" y="1115" width="46" height="18" class="pk"/><text x="403" y="1127.5" class="ti">PTGES2</text><text x="451" y="1127.5" class="ti">PTGES</text></g>
<g id="n_GJA1"><rect x="215" y="1078" width="41" height="19" class="pk"/><text x="235.5" y="1091" class="ti">GJA1</text></g>
<g id="n_NOS2_NOS3"><rect x="96" y="1081" width="57" height="44" class="cx"/><rect x="99" y="1085" width="51" height="18" class="pk"/><rect x="99" y="1105" width="51" height="17" class="pk"/><text x="124.5" y="1097.5" class="ti">NOS2</text><text x="124.5" y="1117" class="t">NOS3</text></g>
<g id="n_CREB"><rect x="343" y="902" width="51" height="43" class="cx"/><rect x="346" y="907" width="45" height="16" class="nb"/><rect x="346" y="926" width="45" height="17" class="nb"/><text x="368.5" y="918.5" class="t">CREB</text><text x="368.5" y="938" class="t">CREBBP</text><circle cx="345" cy="923" r="6" class="ph"/><text x="345" y="926" class="st">P</text></g>
<g id="n_NFATC1_cy"><rect x="689" y="875" width="57" height="17" class="nb"/><text x="717.5" y="887" class="t">NFATC1</text></g>
<g id="n_NFATC1_nu"><rect x="690" y="967" width="57" height="17" class="nb"/><text x="718.5" y="979" class="t">NFATC1</text></g>
<g id="n_arachidonic"><text x="601" y="1163" class="t" style="font-size:9.5px">Arachidonic</text><text x="601" y="1175" class="t" style="font-size:9.5px">acid</text></g>
<g id="n_PGE2"><ellipse cx="560" cy="1267" rx="27" ry="10" class="sm"/><text x="560" y="1270.5" class="ts">PGE2</text></g>
<g id="n_PGF2"><ellipse cx="644" cy="1266" rx="35" ry="10" class="sm"/><text x="644" y="1269.5" class="ts">PGF2 alpha</text></g>

<g id="translocation_labels">
<text x="699" y="348" class="tr">CY</text><text x="699" y="363" class="tr">PM</text>
<text x="1306" y="269" class="tr">PM</text><text x="1305" y="295" class="tr">EN</text>
<text x="1420" y="272" class="tr">PM</text><text x="1419" y="294" class="tr">EN</text>
<text x="505" y="793" class="tr">CY</text><text x="504" y="815" class="tr">NU</text>
<text x="556" y="792" class="tr">CY</text><text x="557" y="814" class="tr">NU</text>
<text x="665" y="753" class="tr">CY</text><text x="666" y="776" class="tr">ER</text>
<text x="968" y="696" class="tr">PM</text><text x="966" y="723" class="tr">NU</text>
<text x="701" y="925" class="tr">CY</text><text x="700" y="944" class="tr">NU</text>
<text x="1390" y="902" class="tr">PM</text><text x="1392" y="929" class="tr">NU</text>
</g>

<g id="out_degradation_oxytocin"><text class="r"><tspan x="627" y="251">Degradation</tspan><tspan x="627" y="264">of oxytocin</tspan></text></g>
<g id="out_anxiolytic_left"><text class="r"><tspan x="189" y="593">Anxiolytic</tspan><tspan x="189" y="606">effect</tspan></text></g>
<g id="out_infarct"><text class="r"><tspan x="416" y="771">Reduction</tspan><tspan x="416" y="784">of infarct</tspan><tspan x="416" y="797">size in heart</tspan></text></g>
<g id="out_glucose"><text class="r"><tspan x="308" y="816">Glucose</tspan><tspan x="308" y="829">uptake</tspan></text></g>
<g id="out_hyperpol"><text class="r"><tspan x="361" y="847">Hyperpolarization</tspan><tspan x="361" y="860">of cell</tspan></text></g>
<g id="out_potassium"><text class="r"><tspan x="238" y="897">Potassium ion efflux</tspan><tspan x="238" y="910">in modulation of</tspan><tspan x="238" y="924">nociception</tspan><tspan x="238" y="937">(in dorsal root</tspan><tspan x="238" y="950">ganglion)</tspan></text></g>
<g id="out_uterine"><text class="r"><tspan x="172" y="1041">Uterine</tspan><tspan x="172" y="1054">contraction</tspan></text></g>
<g id="out_cellular_regression"><text class="r"><tspan x="59" y="1179">Cellular regression</tspan><tspan x="59" y="1192">in human granulosa</tspan><tspan x="59" y="1206">cells</tspan></text></g>
<g id="out_cardiomyocyte"><text class="r"><tspan x="148" y="1217">Cardiomyocyte</tspan><tspan x="148" y="1230">differentiation</tspan><tspan x="148" y="1244">in stem cells</tspan></text></g>
<g id="out_esc"><text class="r"><tspan x="237" y="1229">Undifferentiated</tspan><tspan x="237" y="1242">state in ESC</tspan></text></g>
<g id="out_inflammation"><text class="r"><tspan x="467" y="1222">Inflammation induced due to</tspan><tspan x="467" y="1235">myometrium contraction at</tspan><tspan x="467" y="1248">onset of labor</tspan></text></g>
<g id="out_labour"><text class="r"><tspan x="606" y="1374">Uterine contraction,</tspan><tspan x="606" y="1387">labour induction</tspan><tspan x="606" y="1401">and luteolysis</tspan></text></g>
<g id="out_supraoptic"><text class="r"><tspan x="699" y="1197">Excitatory</tspan><tspan x="699" y="1211">effect</tspan><tspan x="699" y="1224">on supraoptic</tspan><tspan x="699" y="1237">nucleus</tspan></text></g>
<g id="out_anxiolytic_mid"><text class="r"><tspan x="800" y="1206">Anxiolytic</tspan><tspan x="800" y="1219">effect</tspan></text></g>
<g id="out_cell_prolif"><text class="r"><tspan x="862" y="1194">Cell</tspan><tspan x="862" y="1207">proliferation</tspan></text></g>
<g id="out_ltp"><text class="r"><tspan x="931" y="1202">Long-term</tspan><tspan x="931" y="1215">potentiation</tspan></text></g>
<g id="out_osteoclasto"><text class="r"><tspan x="1002" y="1200">Osteoclasto-</tspan><tspan x="1002" y="1213">genesis</tspan></text></g>
<g id="out_osteoblast"><text class="r"><tspan x="1073" y="1202">Osteoblast</tspan><tspan x="1073" y="1215">differentiation</tspan></text></g>
<g id="out_bone"><text class="r"><tspan x="1153" y="1202">Inhibits bone</tspan><tspan x="1153" y="1216">resorption</tspan></text></g>
<g id="out_gut_protein"><text class="r"><tspan x="1217" y="1196">Protein</tspan><tspan x="1217" y="1209">synthesis</tspan><tspan x="1217" y="1222">in gut cells</tspan></text></g>
<g id="out_er_stress"><text class="r"><tspan x="1310" y="1195">ER stress induced</tspan><tspan x="1310" y="1209">unfolded protein</tspan><tspan x="1310" y="1222">response in gut</tspan></text></g>
<g id="out_myocardial"><text class="r"><tspan x="1413" y="1202">Myocardial</tspan><tspan x="1413" y="1215">protection</tspan></text></g>
<g id="out_autoreg"><text class="r"><tspan x="718" y="564">Autoregulation of</tspan><tspan x="718" y="577">social behaviour</tspan></text></g>
<g id="out_myometrial"><text class="r"><tspan x="846" y="555">Protein synthesis</tspan><tspan x="846" y="568">in myometrial cells</tspan></text></g>
<g id="out_cell_growth"><text class="r"><tspan x="762" y="819">Cell growth</tspan><tspan x="762" y="832">(small cell</tspan><tspan x="762" y="846">lung</tspan><tspan x="762" y="859">carcinoma)</tspan></text></g>
<g id="out_osteo_adipo"><text class="r"><tspan x="848" y="827">Osteoblast</tspan><tspan x="848" y="840">differentiation</tspan><tspan x="848" y="854">/Decreased</tspan><tspan x="848" y="867">adipocyte</tspan><tspan x="848" y="880">differentiation</tspan></text></g>
<g id="out_epsp"><text class="r"><tspan x="991" y="947">Excitatory</tspan><tspan x="991" y="961">postsynaptic</tspan><tspan x="991" y="974">potential</tspan></text></g>
<g id="out_social"><text class="r"><tspan x="1255" y="648">Regulation of</tspan><tspan x="1255" y="662">social</tspan><tspan x="1255" y="675">behaviour</tspan></text></g>
<g id="out_decreased_uterine"><text class="r"><tspan x="1335" y="541">Decreased</tspan><tspan x="1335" y="554">uterine</tspan><tspan x="1335" y="567">contraction</tspan></text></g>

<g id="legend">
<rect x="843" y="1359" width="676" height="145" fill="#fff" stroke="#888" stroke-width="1.5"/>
<rect x="854" y="1373" width="50" height="17" class="nb"/><text x="879" y="1385" class="t">Ligand</text>
<line x1="880" y1="1390" x2="880" y2="1410" stroke="#ff6699" stroke-width="2"/>
<ellipse cx="880" cy="1421" rx="12" ry="12" fill="#ff3399"/>
<path d="M923,1379Q923,1394 932,1394Q941,1394 941,1379" fill="none" stroke="#111" stroke-width="2.5"/>
<line x1="932" y1="1394" x2="932" y2="1420" stroke="#111" stroke-width="2"/>
<rect x="912" y="1420" width="50" height="15" class="nb"/><text x="937" y="1431" class="t">Receptor</text>
<rect x="855" y="1444" width="128" height="49" class="cx"/>
<rect x="858" y="1447" width="59" height="21" class="pk"/><rect x="920" y="1447" width="60" height="21" class="gr"/>
<rect x="858" y="1470" width="59" height="21" class="pk"/><rect x="920" y="1470" width="60" height="21" class="gr"/>
<text x="887.5" y="1456" style="font-size:7.5px;text-anchor:middle;fill:#555">Protein</text><text x="887.5" y="1465" style="font-size:7.5px;text-anchor:middle;fill:#555">upregulation</text>
<text x="950" y="1456" style="font-size:7.5px;text-anchor:middle;fill:#555">Protein</text><text x="950" y="1465" style="font-size:7.5px;text-anchor:middle;fill:#555">downregulation</text>
<text x="887.5" y="1479" style="font-size:7.5px;font-style:italic;text-anchor:middle;fill:#555">mRNA</text><text x="887.5" y="1488" style="font-size:7.5px;font-style:italic;text-anchor:middle;fill:#555">upregulation</text>
<text x="950" y="1479" style="font-size:7.5px;font-style:italic;text-anchor:middle;fill:#555">mRNA</text><text x="950" y="1488" style="font-size:7.5px;font-style:italic;text-anchor:middle;fill:#555">downregulation</text>
<path d="M997,1384H1062" class="g ga"/><text x="1074" y="1388" class="lg">Protein-protein interaction</text>
<path d="M997,1402H1062" class="g ga"/><path d="M1038,1397V1407" stroke="#225522" stroke-width="1.5"/><text x="1074" y="1406" class="lg">Protein-protein dissociation</text>
<path d="M997,1424H1062" class="k ka"/><text x="1074" y="1422" class="lg">Leads to through</text><text x="1074" y="1435" class="lg">unknown mechanism</text>
<path d="M997,1447H1062" class="b"/><text x="1074" y="1451" class="lg">Phosphorylation</text>
<path d="M997,1463H1062" class="o"/><text x="1074" y="1469" class="lg">Clevage</text>
<path d="M997,1481H1062" fill="none" stroke="#cc22dd" stroke-width="1.6" marker-end="url(#aM)"/><text x="1074" y="1485" class="lg">Transport</text>
<path d="M1222,1384H1256V1397H1273" class="s sg"/><text x="1290" y="1388" class="lg">Positive regulation</text><text x="1290" y="1401" class="lg">of gene expression</text>
<ellipse cx="1253" cy="1414" rx="14" ry="7" fill="#40d8d8" stroke="#333" stroke-width="1"/><text x="1253" y="1417" class="st">DeP</text><text x="1288" y="1418" class="lg">Dephosphorylation</text>
<rect x="1230" y="1427" width="47" height="15" class="nb"/><text x="1253" y="1438" class="t" style="font-weight:normal">Protein</text><ellipse cx="1277" cy="1443" rx="6" ry="8" fill="#fff" stroke="#333" stroke-width="1.2"/><text x="1290" y="1439" class="lg">Induced catalysis</text>
<rect x="1230" y="1455" width="48" height="17" class="cy"/><text x="1254" y="1467" class="t">Protein</text><text x="1290" y="1465" class="lg">Induced activation</text>
<path d="M1227,1486H1275" stroke="#ff3355" stroke-width="2"/><path d="M1276,1477V1497" stroke="#ff3355" stroke-width="2.5"/><text x="1292" y="1491" class="lg">Inhibition</text>
<path d="M1413,1382V1410" fill="none" stroke="#ff22ff" stroke-width="2" marker-start="url(#aPL)" marker-end="url(#aPL)"/><text x="1425" y="1401" class="lg">Translocation</text>
<text x="1411" y="1422" class="tr" style="fill:#ff22ff">PM</text><text x="1425" y="1422" class="lg">Plasma membrane</text>
<text x="1411" y="1439" class="tr" style="fill:#ff22ff">CY</text><text x="1425" y="1439" class="lg">Cytoplasm</text>
<text x="1411" y="1455" class="tr" style="fill:#ff22ff">EN</text><text x="1425" y="1455" class="lg">Endosome</text>
<text x="1411" y="1471" class="tr" style="fill:#ff22ff">NU</text><text x="1425" y="1471" class="lg">Nucleus</text>
<rect x="1403" y="1478" width="18" height="11" rx="5.5" class="sm"/><text x="1429" y="1487" class="lg">Small molecule</text>
</g>
</svg>
